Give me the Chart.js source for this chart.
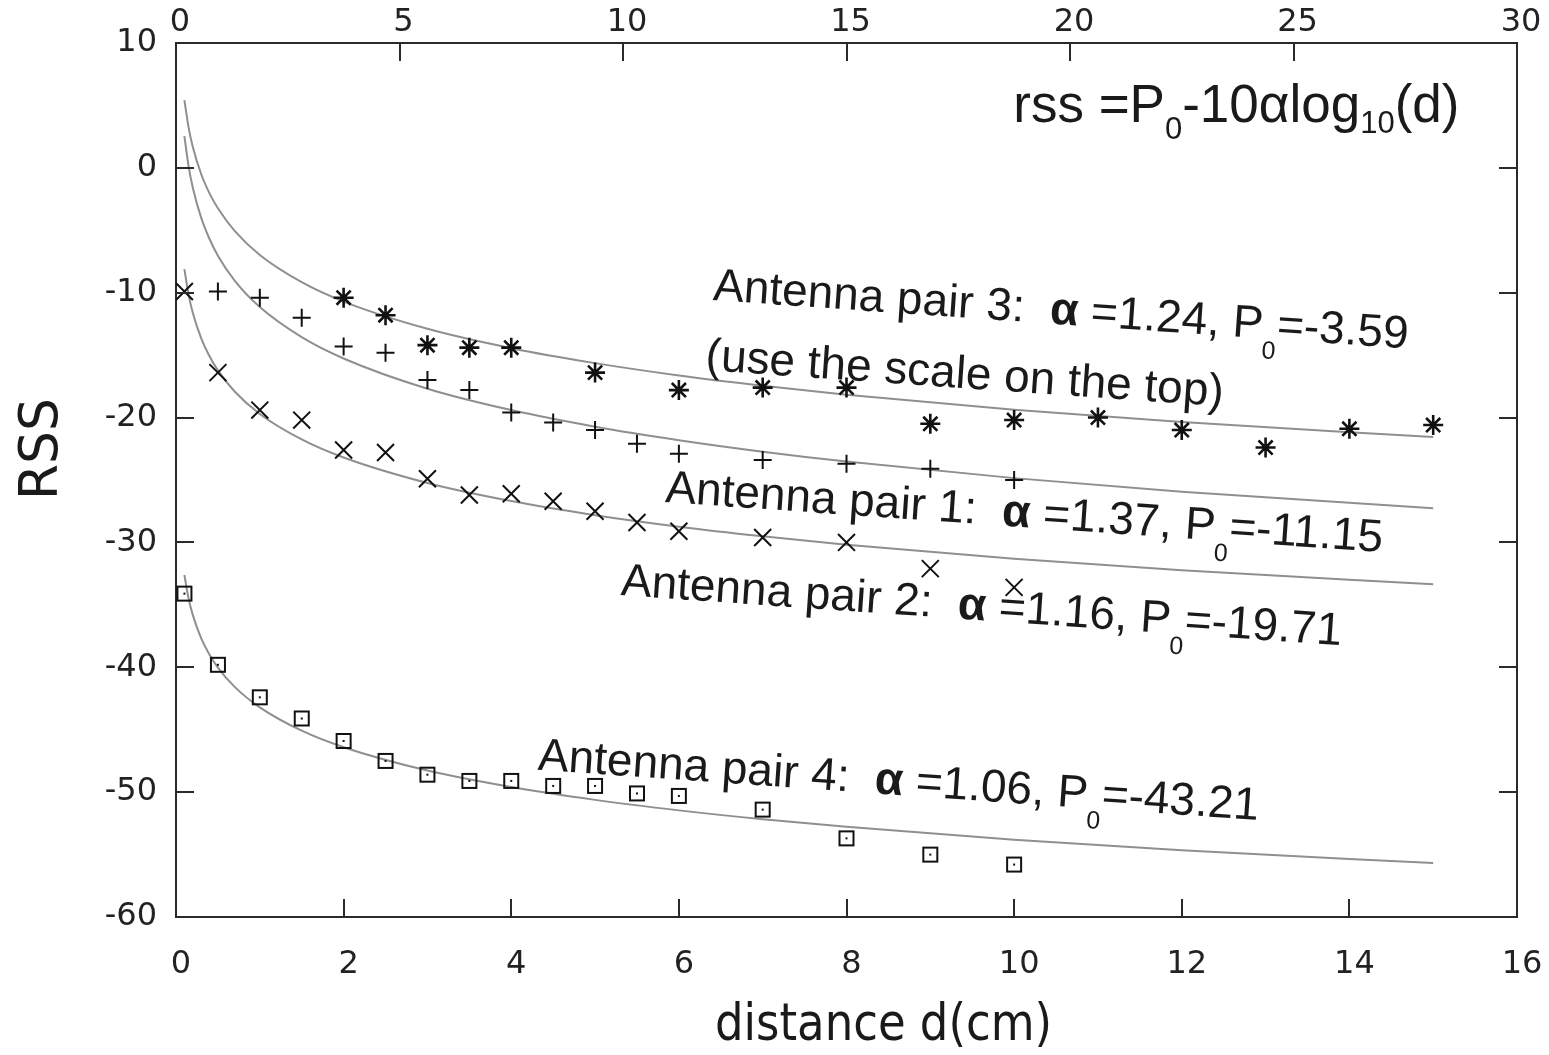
<!DOCTYPE html>
<html>
<head>
<meta charset="utf-8">
<script src="https://cdn.jsdelivr.net/npm/chart.js@4.4.1/dist/chart.umd.min.js"></script>
<style>
html,body{margin:0;padding:0;background:#ffffff;}
#wrap{width:1549px;height:1055px;position:relative;}
</style>
</head>
<body>
<div id="wrap"><canvas id="c" width="1549" height="1055"></canvas></div>
<script>
// ---------------- data ----------------
const bottomTicks = [0, 2, 4, 6, 8, 10, 12, 14, 16];
const topTicks = [0, 5, 10, 15, 20, 25, 30];
const yTicks = [-60, -50, -40, -30, -20, -10, 0, 10];

// Antenna pair 1 (+)
const pair1X = [0.5, 1, 1.5, 2, 2.5, 3, 3.5, 4, 4.5, 5, 5.5, 6, 7, 8, 9, 10];
const pair1Y = [-9.9, -10.4, -12.0, -14.3, -14.8, -17.0, -17.8, -19.6, -20.4, -21.0, -22.1, -22.9, -23.4, -23.7, -24.1, -25.0];

// Antenna pair 2 (x)
const pair2X = [0.1, 0.5, 1, 1.5, 2, 2.5, 3, 3.5, 4, 4.5, 5, 5.5, 6, 7, 8, 9, 10];
const pair2Y = [-9.9, -16.4, -19.4, -20.2, -22.6, -22.8, -24.9, -26.2, -26.1, -26.7, -27.5, -28.4, -29.1, -29.6, -30.0, -32.1, -33.6];

// Antenna pair 3 (*)  (positions read on the bottom axis)
const pair3X = [2, 2.5, 3, 3.5, 4, 5, 6, 7, 8, 9, 10, 11, 12, 13, 14, 15];
const pair3Y = [-10.4, -11.8, -14.2, -14.4, -14.4, -16.4, -17.8, -17.6, -17.6, -20.5, -20.2, -20.0, -21.0, -22.4, -20.9, -20.6];

// Antenna pair 4 (squares)
const pair4X = [0.1, 0.5, 1, 1.5, 2, 2.5, 3, 3.5, 4, 4.5, 5, 5.5, 6, 7, 8, 9, 10];
const pair4Y = [-34.1, -39.8, -42.4, -44.1, -45.9, -47.5, -48.6, -49.1, -49.1, -49.5, -49.5, -50.1, -50.3, -51.4, -53.7, -55.0, -55.8];

// fitted curves (grey lines), read at these distances
const fitD = [0.1, 0.15, 0.2, 0.3, 0.4, 0.5, 0.7, 1, 1.5, 2, 3, 4, 5, 6, 7, 8, 10, 12, 15];
const fit1 = [2.55, 0.14, -1.57, -3.99, -5.70, -7.03, -9.03, -11.15, -13.56, -15.27, -17.69, -19.40, -20.73, -21.81, -22.73, -23.52, -24.85, -25.94, -27.26];
const fit2 = [-8.11, -10.15, -11.60, -13.64, -15.09, -16.22, -17.91, -19.71, -21.75, -23.20, -25.24, -26.69, -27.82, -28.74, -29.51, -30.19, -31.31, -32.23, -33.35];
const fit3 = [5.43, 3.24, 1.69, -0.49, -2.04, -3.24, -5.05, -6.98, -9.16, -10.71, -12.89, -14.44, -15.64, -16.63, -17.45, -18.17, -19.38, -20.36, -21.56];
const fit4 = [-32.61, -34.48, -35.80, -37.67, -38.99, -40.02, -41.57, -43.21, -45.08, -46.40, -48.27, -49.59, -50.62, -51.46, -52.17, -52.78, -53.81, -54.65, -55.68];

// annotation texts
const note3 = [["Antenna pair 3:  ", "n"], ["\u03b1", "b"], [" =1.24, P", "n"], ["0", "s"], ["=-3.59", "n"]];
const note3b = [["(use the scale on the top)", "n"]];
const note1 = [["Antenna pair 1:  ", "n"], ["\u03b1", "b"], [" =1.37, P", "n"], ["0", "s"], ["=-11.15", "n"]];
const note2 = [["Antenna pair 2:  ", "n"], ["\u03b1", "b"], [" =1.16, P", "n"], ["0", "s"], ["=-19.71", "n"]];
const note4 = [["Antenna pair 4:  ", "n"], ["\u03b1", "b"], [" =1.06, P", "n"], ["0", "s"], ["=-43.21", "n"]];
const formula = [["rss =P", "n"], ["0", "s"], ["-10\u03b1log", "n"], ["10", "s2"], ["(d)", "n"]];
const xTitle = "distance d(cm)";
const yTitle = "RSS";

// ---------------- helpers ----------------
const zip = (xs, ys) => xs.map((x, i) => ({x: x, y: ys[i]}));

function squareMarker() {
  const c = document.createElement('canvas');
  c.width = 18; c.height = 18;
  const g = c.getContext('2d');
  g.strokeStyle = '#111'; g.lineWidth = 2;
  g.strokeRect(2, 2, 14, 14);
  g.fillStyle = '#111';
  g.fillRect(8, 8, 2, 2);
  return c;
}

const TEXT = '#1a1a1a';
const ANG = 4 * Math.PI / 180;

// annotation placement (data coords on bottom axis) and style
const notesLayout = [
  {parts: note3,  x: 6.40, y: -10.58, size: 46, sub: 25, subDy: 20, rot: ANG},
  {parts: note3b, x: 6.31, y: -16.19, size: 46, sub: 25, subDy: 20, rot: ANG},
  {parts: note1,  x: 5.83, y: -26.76, size: 46, sub: 25, subDy: 20, rot: ANG},
  {parts: note2,  x: 5.30, y: -34.21, size: 46, sub: 25, subDy: 20, rot: ANG},
  {parts: note4,  x: 4.31, y: -48.20, size: 46, sub: 25, subDy: 20, rot: ANG},
  {parts: formula, x: 9.99, y: 3.67, size: 53, sub: 31, subDy: 17, sub2Dy: 11, rot: 0}
];

const annotPlugin = {
  id: 'annot',
  afterDatasetsDraw(chart) {
    const ctx = chart.ctx;
    const sx = chart.scales.x, sy = chart.scales.y;
    ctx.save();
    ctx.fillStyle = TEXT;
    ctx.textBaseline = 'alphabetic';
    ctx.textAlign = 'left';
    notesLayout.forEach(n => {
      ctx.save();
      ctx.translate(sx.getPixelForValue(n.x), sy.getPixelForValue(n.y));
      ctx.rotate(n.rot);
      let cx = 0;
      n.parts.forEach(([t, st]) => {
        let dy = 0;
        if (st === 'b') ctx.font = 'bold ' + n.size + 'px "Liberation Sans", Arial, sans-serif';
        else if (st === 's') { ctx.font = n.sub + 'px "Liberation Sans", Arial, sans-serif'; dy = n.subDy; }
        else if (st === 's2') { ctx.font = n.sub + 'px "Liberation Sans", Arial, sans-serif'; dy = n.sub2Dy; }
        else ctx.font = n.size + 'px "Liberation Sans", Arial, sans-serif';
        ctx.fillText(t, cx, dy);
        cx += ctx.measureText(t).width;
      });
      ctx.restore();
    });
    ctx.restore();
  }
};

const framePlugin = {
  id: 'frame',
  afterDraw(chart) {
    const ctx = chart.ctx, a = chart.chartArea, L = 18;
    const s = chart.scales;
    ctx.save();
    ctx.strokeStyle = '#2a2a2a';
    ctx.lineWidth = 2;
    ctx.beginPath();
    s.x.ticks.forEach(t => { const p = Math.round(s.x.getPixelForValue(t.value)); ctx.moveTo(p, a.bottom); ctx.lineTo(p, a.bottom - L); });
    s.x2.ticks.forEach(t => { const p = Math.round(s.x2.getPixelForValue(t.value)); ctx.moveTo(p, a.top); ctx.lineTo(p, a.top + L); });
    s.y.ticks.forEach(t => { const p = Math.round(s.y.getPixelForValue(t.value)); ctx.moveTo(a.left, p); ctx.lineTo(a.left + L, p); });
    s.y2.ticks.forEach(t => { const p = Math.round(s.y2.getPixelForValue(t.value)); ctx.moveTo(a.right, p); ctx.lineTo(a.right - L, p); });
    ctx.stroke();

    // axis titles
    ctx.fillStyle = TEXT;
    ctx.textBaseline = 'alphabetic';
    ctx.textAlign = 'center';
    // bottom title
    ctx.save();
    ctx.font = '52px "DejaVu Sans", sans-serif';
    const w1 = ctx.measureText(xTitle).width;
    ctx.translate((a.left + a.right) / 2 + 37, 1040);
    ctx.scale(337 / w1, 1);
    ctx.fillText(xTitle, 0, 0);
    ctx.restore();
    // left title
    ctx.save();
    ctx.font = '40px "DejaVu Sans", sans-serif';
    const w2 = ctx.measureText(yTitle).width;
    ctx.translate(57, 449);
    ctx.rotate(-Math.PI / 2);
    ctx.scale(102 / w2, 1.34);
    ctx.fillText(yTitle, 0, 0);
    ctx.restore();
    ctx.restore();
  }
};

const tickFont = {family: '"DejaVu Sans", sans-serif', size: 32};
const borderOpt = {display: true, color: '#2a2a2a', width: 2};

const markerBase = {showLine: false, borderColor: '#111', backgroundColor: '#111', order: 1};
const curveBase = {showLine: true, pointRadius: 0, borderColor: '#8f8f8f', borderWidth: 2, cubicInterpolationMode: 'monotone', fill: false, order: 2};

function noPadH(s) { s.paddingLeft = 0; s.paddingRight = 0; }
function noPadV(s) { s.paddingTop = 0; s.paddingBottom = 0; }

new Chart(document.getElementById('c'), {
  type: 'scatter',
  data: {
    datasets: [
      Object.assign({label: 'fit 1', data: zip(fitD, fit1)}, curveBase),
      Object.assign({label: 'fit 2', data: zip(fitD, fit2)}, curveBase),
      Object.assign({label: 'fit 3', data: zip(fitD, fit3)}, curveBase),
      Object.assign({label: 'fit 4', data: zip(fitD, fit4)}, curveBase),
      Object.assign({label: 'Antenna pair 1', data: zip(pair1X, pair1Y), pointStyle: 'cross', pointRadius: 9, borderWidth: 2}, markerBase),
      Object.assign({label: 'Antenna pair 2', data: zip(pair2X, pair2Y), pointStyle: 'crossRot', pointRadius: 12, borderWidth: 2}, markerBase),
      Object.assign({label: 'Antenna pair 3', data: zip(pair3X, pair3Y), pointStyle: 'star', pointRadius: 10, borderWidth: 2.6}, markerBase),
      Object.assign({label: 'Antenna pair 4', data: zip(pair4X, pair4Y), pointStyle: squareMarker(), pointRadius: 9, borderWidth: 2}, markerBase)
    ]
  },
  options: {
    responsive: false,
    animation: false,
    events: [],
    layout: {padding: 0},
    plugins: {legend: {display: false}, tooltip: {enabled: false}, title: {display: false}},
    scales: {
      x: {
        type: 'linear', position: 'bottom', min: 0, max: 16,
        grid: {display: false}, border: borderOpt,
        ticks: {font: tickFont, color: '#222', padding: 20, labelOffset: 5},
        afterBuildTicks: s => { s.ticks = bottomTicks.map(v => ({value: v})); },
        afterFit: s => { s.height = 138; noPadH(s); }
      },
      x2: {
        type: 'linear', position: 'top', min: 0, max: 30,
        grid: {display: false}, border: borderOpt,
        ticks: {font: tickFont, color: '#222', padding: -7, labelOffset: 4},
        afterBuildTicks: s => { s.ticks = topTicks.map(v => ({value: v})); },
        afterFit: s => { s.height = 43; noPadH(s); }
      },
      y: {
        type: 'linear', position: 'left', min: -60, max: 10,
        grid: {display: false}, border: borderOpt,
        ticks: {font: tickFont, color: '#222', padding: 11},
        afterBuildTicks: s => { s.ticks = yTicks.map(v => ({value: v})); },
        afterFit: s => { s.width = 176; noPadV(s); }
      },
      y2: {
        type: 'linear', position: 'right', min: -60, max: 10,
        grid: {display: false}, border: borderOpt,
        ticks: {display: false},
        afterBuildTicks: s => { s.ticks = yTicks.map(v => ({value: v})); },
        afterFit: s => { s.width = 32; noPadV(s); }
      }
    }
  },
  plugins: [annotPlugin, framePlugin]
});
</script>
</body>
</html>
